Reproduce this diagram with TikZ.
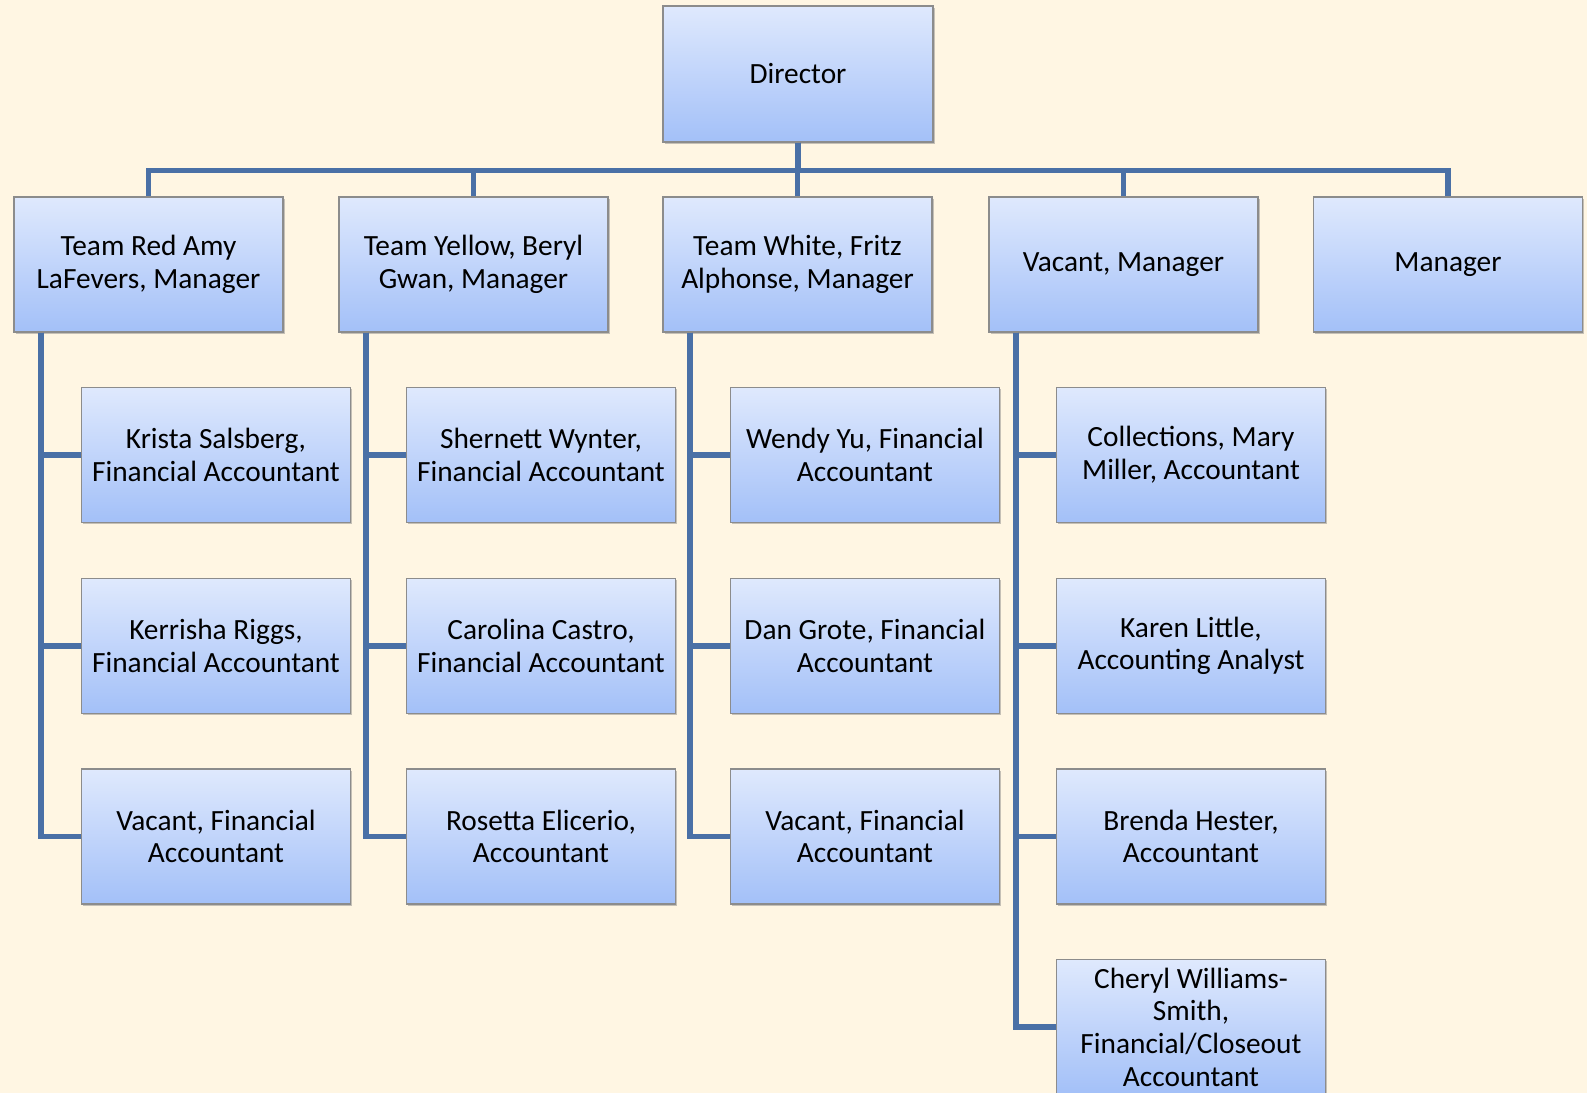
\documentclass[tikz,border=0pt]{standalone}
\usepackage{fontspec}
\setmainfont{Carlito}
\usetikzlibrary{shadows}

\definecolor{fondo}{RGB}{255,246,227}
\definecolor{linea}{RGB}{74,112,166}
\definecolor{cajaarriba}{RGB}{223,233,253}
\definecolor{cajaabajo}{RGB}{163,192,248}
\definecolor{borde}{RGB}{140,140,140}

\begin{document}
\begin{tikzpicture}[
    caja/.style={rectangle, draw=borde, line width=0.6pt,
      top color=cajaarriba, bottom color=cajaabajo,
      minimum width=5.38cm, minimum height=2.7cm, inner sep=2pt,
      align=center, font=\fontsize{16.7}{18.6}\selectfont,
      drop shadow={shadow xshift=0.9pt, shadow yshift=-1.1pt, opacity=0.45}},
    conn/.style={linea, line width=2.9pt}]

  % --- Fondo ---
  \clip (0,0) rectangle (31.74,21.86);
  \fill[fondo] (0,0) rectangle (31.74,21.86);

  % --- Director ---
  \node[caja, minimum width=5.4cm, minimum height=2.72cm] (dir) at (15.96,20.38) {Director};

  % --- Gerentes ---
  \node[caja] (red) at ( 2.97,16.57) {Team Red Amy\\LaFevers, Manager};
  \node[caja] (yel) at ( 9.47,16.57) {Team Yellow, Beryl\\Gwan, Manager};
  \node[caja] (whi) at (15.95,16.57) {Team White, Fritz\\Alphonse, Manager};
  \node[caja] (vac) at (22.47,16.57) {Vacant, Manager};
  \node[caja] (mgr) at (28.96,16.57) {Manager};

  % --- Equipo rojo ---
  \node[caja] (red1) at ( 4.32,12.76) {Krista Salsberg,\\Financial Accountant};
  \node[caja] (red2) at ( 4.32, 8.94) {Kerrisha Riggs,\\Financial Accountant};
  \node[caja] (red3) at ( 4.32, 5.13) {Vacant, Financial\\Accountant};

  % --- Equipo amarillo ---
  \node[caja] (yel1) at (10.82,12.76) {Shernett Wynter,\\Financial Accountant};
  \node[caja] (yel2) at (10.82, 8.94) {Carolina Castro,\\Financial Accountant};
  \node[caja] (yel3) at (10.82, 5.13) {Rosetta Elicerio,\\Accountant};

  % --- Equipo blanco ---
  \node[caja] (whi1) at (17.30,12.76) {Wendy Yu, Financial\\Accountant};
  \node[caja] (whi2) at (17.30, 8.94) {Dan Grote, Financial\\Accountant};
  \node[caja] (whi3) at (17.30, 5.13) {Vacant, Financial\\Accountant};

  % --- Equipo vacante ---
  \node[caja] (vac1) at (23.82,12.76) {Collections, Mary\\Miller, Accountant};
  \node[caja] (vac2) at (23.82, 8.94) {Karen Little,\\Accounting Analyst};
  \node[caja] (vac3) at (23.82, 5.13) {Brenda Hester,\\Accountant};
  \node[caja] (vac4) at (23.82, 1.32) {Cheryl Williams-\\Smith,\\Financial/Closeout\\Accountant};

  % --- Conexiones director-gerentes ---
  \foreach \m in {red,yel,whi,vac,mgr}
    \draw[conn] (dir.south) -- ++(0,-0.56) -| (\m.north);

  % --- Conexiones gerentes-equipo ---
  \foreach \m/\n in {red/3,yel/3,whi/3,vac/4}
    \foreach \k in {1,...,\n}
      \draw[conn] ([xshift=0.55cm]\m.south west) |- (\m\k.west);

\end{tikzpicture}
\end{document}
